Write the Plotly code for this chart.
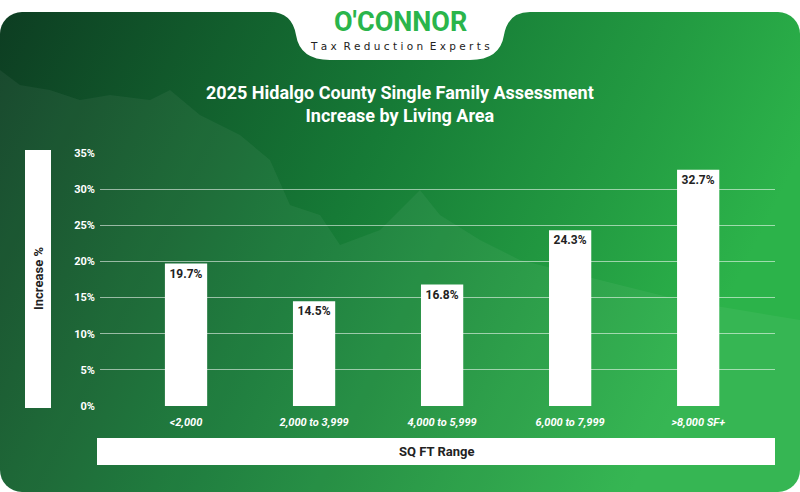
import base64
import plotly.graph_objects as go

categories = ["<2,000", "2,000 to 3,999", "4,000 to 5,999", "6,000 to 7,999", ">8,000 SF+"]
increase = [19.7, 14.5, 16.8, 24.3, 32.7]
labels = [f"{v}%" for v in increase]

W, H, L, T, PW, PH = 800, 492, 100, 153, 675, 253


def px(x):
    return (x - L) / PW


def py(y):
    return (T + PH - y) / PH


svg = """<svg xmlns='http://www.w3.org/2000/svg' width='800' height='492' preserveAspectRatio='none'>
<defs><linearGradient id='g' x1='0' y1='0' x2='1' y2='0.3'>
<stop offset='0' stop-color='#0d3d22'/><stop offset='0.5' stop-color='#167a36'/>
<stop offset='1' stop-color='#2cb34a'/></linearGradient></defs>
<rect x='0' y='12' width='800' height='480' rx='22' fill='url(#g)'/>
<path d='M0,70 L20,85 L50,90 L80,100 L110,95 L150,100 L170,90 L200,115 L240,135 L270,160 L290,205 L320,215 L340,245 L380,230 L420,190 L440,215 L480,240 L520,260 L600,280 L680,300 L800,320 L800,492 L0,492 Z' fill='#ffffff' fill-opacity='0.05'/>
</svg>"""
bg = "data:image/svg+xml;base64," + base64.b64encode(svg.encode()).decode()

fig = go.Figure(go.Bar(
    x=categories, y=increase, text=labels, textposition="inside", width=0.33,
    insidetextanchor="end", marker=dict(color="white", line=dict(width=0)),
    textfont=dict(color="#222", size=12, family="Roboto", weight="bold"),
))

fig.add_layout_image(source=bg, xref="paper", yref="paper", x=px(0), y=py(0),
                     sizex=W / PW, sizey=H / PH, xanchor="left", yanchor="top",
                     sizing="stretch", layer="below")

logo = dict(type="path", xref="paper", yref="paper",
            path=f"M {px(270)} {py(12)} Q {px(292)} {py(12)} {px(296)} {py(35)} Q {px(300)} {py(60)} {px(330)} {py(60)} "
                 f"L {px(470)} {py(60)} Q {px(500)} {py(60)} {px(504)} {py(35)} Q {px(508)} {py(12)} {px(530)} {py(12)} "
                 f"L {px(530)} {py(0)} L {px(270)} {py(0)} Z",
            fillcolor="white", line=dict(width=0))
ybox = dict(type="rect", xref="paper", yref="paper", x0=px(25), x1=px(51), y0=py(408), y1=py(150),
            fillcolor="white", line=dict(width=0))
xbox = dict(type="rect", xref="paper", yref="paper", x0=px(97), x1=px(775), y0=py(465), y1=py(438),
            fillcolor="white", line=dict(width=0))


def note(text, x, y, size, color, family="Roboto", angle=0):
    return dict(text=text, xref="paper", yref="paper", x=px(x), y=py(y), xanchor="center",
                yanchor="middle", showarrow=False, textangle=angle,
                font=dict(size=size, color=color, family=family))


fig.update_layout(
    width=W, height=H, margin=dict(l=L, r=W - L - PW, t=T, b=H - T - PH),
    paper_bgcolor="white", plot_bgcolor="rgba(0,0,0,0)",
    shapes=[logo, ybox, xbox], showlegend=False,
    font=dict(family="Roboto", color="white"),
    xaxis=dict(range=[-0.672, 4.6], tickfont=dict(size=11, color="white", family="Roboto",
               style="italic", weight="bold"),
               showgrid=False, ticklabelstandoff=8, automargin=False),
    yaxis=dict(range=[0, 35], dtick=5, ticksuffix="%", gridcolor="rgba(255,255,255,0.55)",
               gridwidth=1, zeroline=False, automargin=False,
               tickfont=dict(size=11, color="white", weight="bold"), ticklabelstandoff=4),
    annotations=[
        note("<b>O'CONNOR</b>", 400, 22, 27, "#2ab54b"),
        note("T a x  R e d u c t i o n  E x p e r t s", 400, 46, 10.5, "#222", "DejaVu Sans"),
        note("<b>2025 Hidalgo County Single Family Assessment<br>Increase by Living Area</b>",
             400, 104, 18, "white"),
        note("<b>Increase %</b>", 38, 279, 13, "#222", angle=-90),
        note("<b>SQ FT Range</b>", 436, 451, 13, "#222"),
    ],
)
fig.write_html("out.html", config={"displayModeBar": False},
               post_script="document.body.style.margin='0';")
